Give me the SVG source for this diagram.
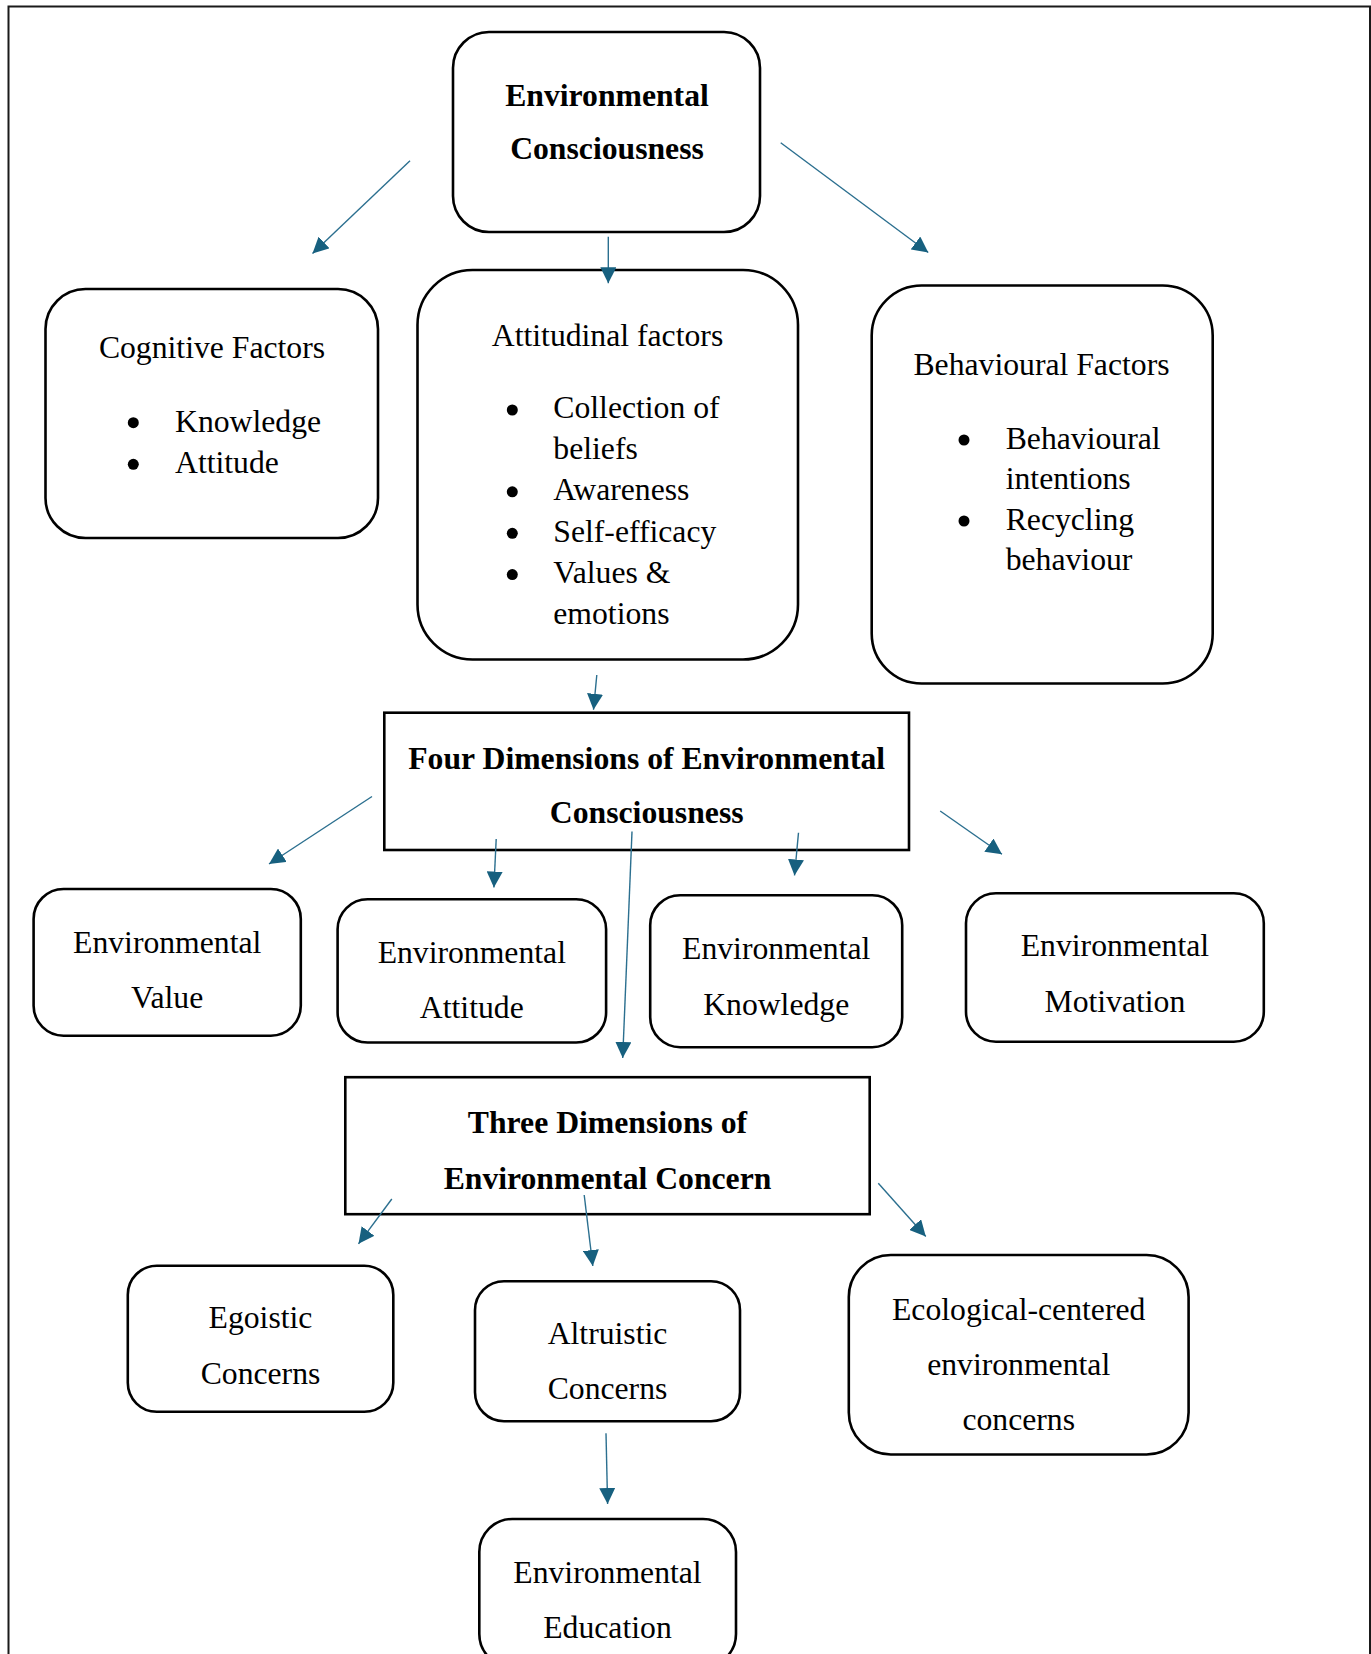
<svg xmlns="http://www.w3.org/2000/svg" width="1371" height="1654" viewBox="0 0 1371 1654">
  <style>
    .box { fill: #ffffff; stroke: #000000; stroke-width: 2.6; }
    .t { font-family: "Liberation Serif", "Times New Roman", serif; font-size: 31.7px; fill: #000000; }
    .c { text-anchor: middle; }
    .b { font-weight: bold; }
    .link { stroke: #2B6F8F; stroke-width: 1.4; fill: none; marker-end: url(#head); }
    .dot { fill: #000000; }
  </style>
  <defs>
    <marker id="head" markerUnits="userSpaceOnUse" markerWidth="16" markerHeight="16" viewBox="0 0 16 16" refX="16" refY="8" orient="auto">
      <path d="M0,0 L16,8 L0,16 z" fill="#17607F"/>
    </marker>
  </defs>

  <rect width="1371" height="1654" fill="#ffffff"/>
  <!-- page frame -->
  <path d="M8.5,1660 V6.5 H1370 V1660" fill="none" stroke="#1a1a1a" stroke-width="2"/>

  <g id="node-env-consciousness">
    <rect class="box" x="453" y="32" width="307" height="200" rx="36" ry="36"/>
    <text class="t c b" x="607" y="106">Environmental</text>
    <text class="t c b" x="607" y="159">Consciousness</text>
  </g>

  <g id="node-cognitive">
    <rect class="box" x="45.5" y="289" width="332.5" height="249" rx="40" ry="40"/>
    <text class="t c" x="212" y="358">Cognitive Factors</text>
    <circle class="dot" cx="133.3" cy="422.7" r="5.5"/>
    <text class="t" x="175" y="431.7">Knowledge</text>
    <circle class="dot" cx="133.3" cy="464.3" r="5.5"/>
    <text class="t" x="175" y="473.3">Attitude</text>
  </g>

  <g id="node-attitudinal">
    <rect class="box" x="417.5" y="270" width="380.5" height="389.5" rx="55" ry="55"/>
    <text class="t c" x="607.5" y="345.7">Attitudinal factors</text>
    <circle class="dot" cx="512.3" cy="410" r="5.5"/>
    <text class="t" x="553.3" y="418.3">Collection of</text>
    <text class="t" x="553.3" y="459">beliefs</text>
    <circle class="dot" cx="512.3" cy="491.8" r="5.5"/>
    <text class="t" x="553.3" y="500.3">Awareness</text>
    <circle class="dot" cx="512.3" cy="533.3" r="5.5"/>
    <text class="t" x="553.3" y="541.8">Self-efficacy</text>
    <circle class="dot" cx="512.3" cy="574.6" r="5.5"/>
    <text class="t" x="553.3" y="583.1">Values &amp;</text>
    <text class="t" x="553.3" y="624.3">emotions</text>
  </g>

  <g id="node-behavioural">
    <rect class="box" x="871.7" y="285.5" width="341" height="398" rx="50" ry="50"/>
    <text class="t c" x="1041.5" y="374.5">Behavioural Factors</text>
    <circle class="dot" cx="964" cy="440" r="5.5"/>
    <text class="t" x="1005.7" y="449">Behavioural</text>
    <text class="t" x="1005.7" y="488.5">intentions</text>
    <circle class="dot" cx="964" cy="521" r="5.5"/>
    <text class="t" x="1005.7" y="530">Recycling</text>
    <text class="t" x="1005.7" y="569.5">behaviour</text>
  </g>

  <g id="node-four-dimensions">
    <rect class="box" x="384.3" y="712.7" width="524.7" height="137.3"/>
    <text class="t c b" x="646.7" y="769">Four Dimensions of Environmental</text>
    <text class="t c b" x="646.7" y="823.3">Consciousness</text>
  </g>

  <g id="node-value">
    <rect class="box" x="33.6" y="889" width="267.2" height="146.7" rx="30" ry="30"/>
    <text class="t c" x="167.2" y="953.3">Environmental</text>
    <text class="t c" x="167.2" y="1007.7">Value</text>
  </g>

  <g id="node-attitude">
    <rect class="box" x="337.6" y="899.3" width="268.5" height="143.2" rx="30" ry="30"/>
    <text class="t c" x="471.8" y="963.3">Environmental</text>
    <text class="t c" x="471.8" y="1018.3">Attitude</text>
  </g>

  <g id="node-knowledge">
    <rect class="box" x="650.2" y="895.2" width="252" height="152" rx="30" ry="30"/>
    <text class="t c" x="776.2" y="959.3">Environmental</text>
    <text class="t c" x="776.2" y="1014.5">Knowledge</text>
  </g>

  <g id="node-motivation">
    <rect class="box" x="966" y="893.3" width="297.8" height="148.4" rx="30" ry="30"/>
    <text class="t c" x="1114.9" y="956">Environmental</text>
    <text class="t c" x="1114.9" y="1011.7">Motivation</text>
  </g>

  <g id="node-three-dimensions">
    <rect class="box" x="345.3" y="1077.2" width="524.4" height="137"/>
    <text class="t c b" x="607.5" y="1133.3">Three Dimensions of</text>
    <text class="t c b" x="607.5" y="1189">Environmental Concern</text>
  </g>

  <g id="node-egoistic">
    <rect class="box" x="127.8" y="1265.8" width="265.5" height="146" rx="29" ry="29"/>
    <text class="t c" x="260.5" y="1328.3">Egoistic</text>
    <text class="t c" x="260.5" y="1384">Concerns</text>
  </g>

  <g id="node-altruistic">
    <rect class="box" x="475" y="1281.2" width="265" height="140" rx="29" ry="29"/>
    <text class="t c" x="607.5" y="1344">Altruistic</text>
    <text class="t c" x="607.5" y="1399.3">Concerns</text>
  </g>

  <g id="node-ecological">
    <rect class="box" x="848.8" y="1255" width="339.8" height="199.5" rx="42" ry="42"/>
    <text class="t c" x="1018.7" y="1320">Ecological-centered</text>
    <text class="t c" x="1018.7" y="1375">environmental</text>
    <text class="t c" x="1018.7" y="1430">concerns</text>
  </g>

  <g id="node-education">
    <rect class="box" x="479.3" y="1519" width="256.7" height="148" rx="33" ry="33"/>
    <text class="t c" x="607.5" y="1583.3">Environmental</text>
    <text class="t c" x="607.5" y="1638.3">Education</text>
  </g>

  <g id="connectors">
    <line class="link" x1="410" y1="160.7" x2="312.5" y2="253.5"/>
    <line class="link" x1="608.3" y1="236.7" x2="608.3" y2="283.3"/>
    <line class="link" x1="780.7" y1="142.8" x2="928.3" y2="252.5"/>
    <line class="link" x1="596.8" y1="675" x2="593.5" y2="709.8"/>
    <line class="link" x1="372" y1="796.5" x2="269" y2="864"/>
    <line class="link" x1="496.2" y1="839" x2="493.9" y2="887.5"/>
    <line class="link" x1="632" y1="831.5" x2="622.7" y2="1058"/>
    <line class="link" x1="798.5" y1="832.7" x2="794.5" y2="875.5"/>
    <line class="link" x1="940.2" y1="811" x2="1002" y2="854.3"/>
    <line class="link" x1="391.8" y1="1199" x2="358.5" y2="1243.8"/>
    <line class="link" x1="584.2" y1="1195" x2="592.8" y2="1266"/>
    <line class="link" x1="878.3" y1="1183.3" x2="925.8" y2="1236.5"/>
    <line class="link" x1="606" y1="1433.3" x2="607.6" y2="1504"/>
  </g>
</svg>
